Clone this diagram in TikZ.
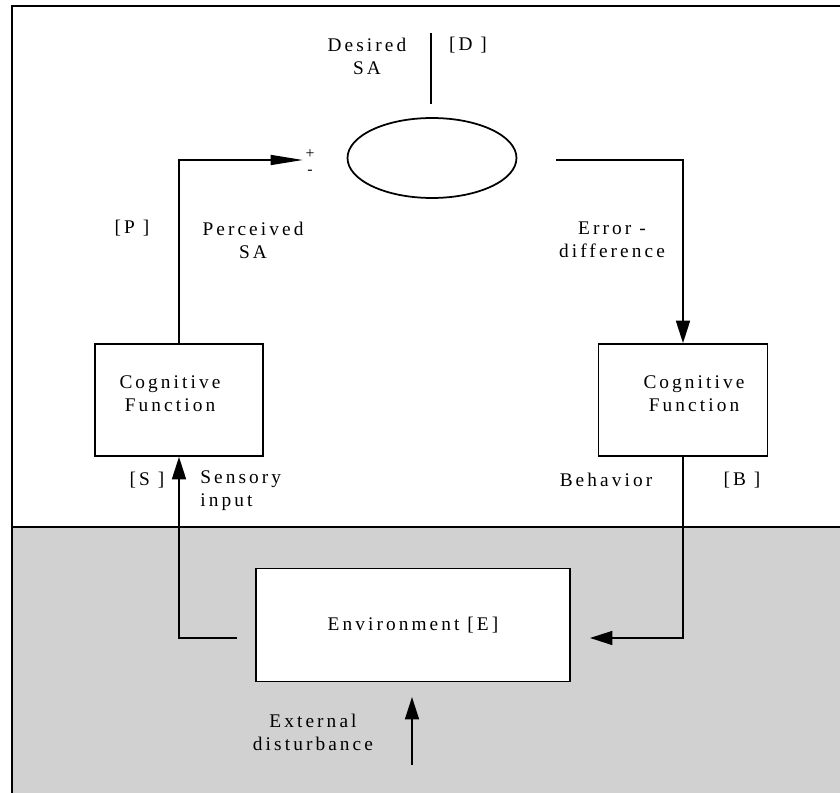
\documentclass[tikz,border=0pt]{standalone}
\usepackage{fontspec}
\setmainfont{Liberation Serif}[LetterSpace=16]
\usetikzlibrary{shapes.geometric,arrows.meta}
\tikzset{
  blk/.style={draw,line width=1pt,fill=white,inner sep=0pt},
  lbl/.style={align=center,font=\fontsize{11}{13}\selectfont,inner sep=0pt},
  sgn/.style={font=\fontsize{9}{9}\selectfont,inner sep=0pt,text height=1.2ex,text depth=0pt},
  wire/.style={line width=1pt},
  arr/.style={wire,-{Triangle[length=4.5mm,width=2.8mm]}},
  longarr/.style={wire,-{Triangle[length=6.5mm,width=2mm]}}
}
\begin{document}
\begin{tikzpicture}[x=0.02cm,y=-0.02cm]
    % \draw[help lines,step=50] (0,0) grid (840,793);
    \useasboundingbox (0,0) rectangle (840,793);

    \fill[black!18] (12,527) rectangle (840,793);
    \draw[wire] (840,6) -- (12,6) -- (12,793);
    \draw[wire] (12,527) -- (840,527);

    \node[ellipse,draw,line width=1pt,minimum width=3.38cm,minimum height=1.6cm] (cmp) at (432,158) {};
    \node[blk,minimum width=3.36cm,minimum height=2.24cm] (cogl) at (179,400) {};
    \node[blk,minimum width=3.38cm,minimum height=2.24cm] (cogr) at (683,400) {};
    \node[blk,minimum width=6.28cm,minimum height=2.26cm,lbl] (env) at (413,625) {Environment [E]};

    \node[lbl] (cogltxt) at (170,394) {Cognitive\\Function};
    \node[lbl] (cogrtxt) at (694,394) {Cognitive\\Function};

    \coordinate (dtop) at (431,33);
    \coordinate (dbot) at (431,104);
    \coordinate (sumin) at (303,160);
    \coordinate (errout) at (556,160);
    \coordinate (envout) at (237,638);
    \coordinate (behin) at (590,638);
    \coordinate (extsrc) at (412,765);
    \coordinate (exttip) at (412,697);

    \draw[wire] (dtop) -- (dbot);
    \draw[longarr] (cogl.north) |- (sumin);
    \draw[arr] (errout) -| (cogr.north);
    \draw[arr] (envout) -| (cogl.south);
    \draw[arr] (cogr.south) |- (behin);
    \draw[arr] (extsrc) -- (exttip);

    \node[sgn] (plus) at (310,154) {+};
    \node[sgn] (minus) at (310,170) {-};

    \node[lbl] (desired) at (367,56) {Desired\\SA};
    \node[lbl] (dlab) at (468,45) {[D ]};
    \node[lbl] (plab) at (132,228) {[P ]};
    \node[lbl] (perceived) at (253,240) {Perceived\\SA};
    \node[lbl] (error) at (612,240) {Error -\\difference};
    \node[lbl] (slab) at (147,480) {[S ]};
    \node[lbl,align=left,anchor=west] (sensory) at (200,491) {Sensory\\input};
    \node[lbl] (behavior) at (606,480) {Behavior};
    \node[lbl] (blab) at (742,480) {[B ]};
    \node[lbl] (external) at (313,732) {External\\disturbance};

\end{tikzpicture}
\end{document}
